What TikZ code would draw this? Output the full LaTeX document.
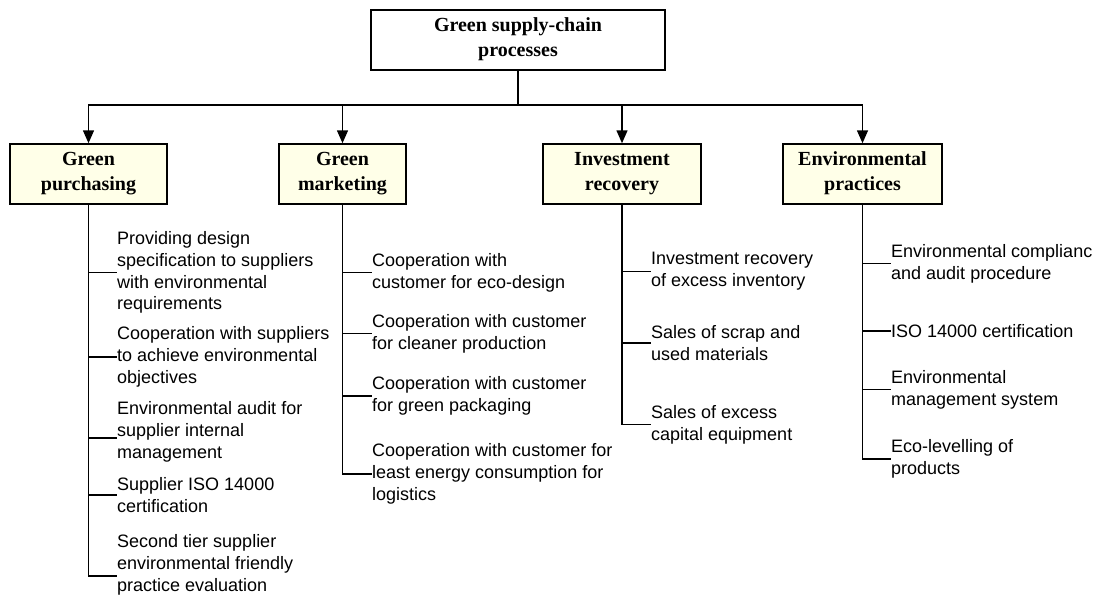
\documentclass[tikz,border=0pt]{standalone}
\usepackage{fontspec}
\setmainfont{Liberation Sans}
\newfontfamily\headfont{Liberation Serif}
\usepackage{tikz}
\usetikzlibrary{arrows.meta}
\definecolor{cream}{RGB}{255,255,232}
\tikzset{
  head/.style={draw, line width=1.5pt, fill=cream, minimum height=60pt,
               align=center, inner sep=0pt, text depth=6pt,
               font=\headfont\bfseries\fontsize{20}{25}\selectfont},
  item/.style={anchor=west, align=left, inner sep=0pt,
               font=\fontsize{18}{21.7}\selectfont},
  link/.style={line width=1.5pt},
  down/.style={line width=1.5pt, -{Triangle[width=11pt,length=13pt]}}
}

\begin{document}
\begin{tikzpicture}[x=1pt, y=-1pt]
    \useasboundingbox (0,0) rectangle (1099,597);
    \node[head, fill=white, minimum width=294pt] (top) at (518,40)
    {Green supply-chain\\processes};
    \node[head, minimum width=157pt] (gp) at (88.5,174) {Green\\purchasing};
    \node[head, minimum width=127pt] (gm) at (342.5,174) {Green\\marketing};
    \node[head, minimum width=158pt] (ir) at (622,174) {Investment\\recovery};
    \node[head, minimum width=159pt] (ep) at (862.5,174) {Environmental\\practices};

    \coordinate (bar) at (518,105);
    \draw[link] (top.south) -- (bar);
    \foreach \n in {gp, gm, ir, ep}
      \draw[down] (bar) -| (\n.north);

    % green purchasing
    \node[item] (p1) at (117,272.5) {Providing design\\specification to suppliers\\with environmental\\requirements};
    \node[item] (p2) at (117,357) {Cooperation with suppliers\\to achieve environmental\\objectives};
    \node[item] (p3) at (117,432) {Environmental audit for\\supplier internal\\management};
    \node[item] (p4) at (117,495) {Supplier ISO 14000\\certification};
    \node[item] (p5) at (117,565) {Second tier supplier\\environmental friendly\\practice evaluation};
    \coordinate (b3) at ([yshift=-6pt]p3.west);
    \coordinate (b5) at ([yshift=-11pt]p5.west);
    \draw[link] (gp.south) |- (b5);
    \draw[link] (gp.south |- b3) -- (b3);
    \foreach \n in {p1, p2, p4}
      \draw[link] (gp.south |- \n.west) -- (\n.west);

    % green marketing
    \node[item] (m1) at (372,272.5) {Cooperation with\\customer for eco-design};
    \node[item] (m2) at (372,333.5) {Cooperation with customer\\for cleaner production};
    \node[item] (m3) at (372,396) {Cooperation with customer\\for green packaging};
    \node[item] (m4) at (372,474) {Cooperation with customer for\\least energy consumption for\\logistics};
    \draw[link] (gm.south) |- (m4.west);
    \foreach \n in {m1, m2, m3}
      \draw[link] (gm.south |- \n.west) -- (\n.west);

    % investment recovery
    \node[item] (r1) at (651,271.5) {Investment recovery\\of excess inventory};
    \node[item] (r2) at (651,343) {Sales of scrap and\\used materials};
    \node[item] (r3) at (651,424.5) {Sales of excess\\capital equipment};
    \draw[link] (ir.south) |- (r3.west);
    \foreach \n in {r1, r2}
      \draw[link] (ir.south |- \n.west) -- (\n.west);

    % environmental practices
    \node[item] (e1) at (891,263.5) {Environmental complianc\\and audit procedure};
    \node[item] (e2) at (891,331) {ISO 14000 certification};
    \node[item] (e3) at (891,389.5) {Environmental\\management system};
    \node[item] (e4) at (891,459) {Eco-levelling of\\products};
    \draw[link] (ep.south) |- (e4.west);
    \foreach \n in {e1, e2, e3}
      \draw[link] (ep.south |- \n.west) -- (\n.west);
\end{tikzpicture}
\end{document}
